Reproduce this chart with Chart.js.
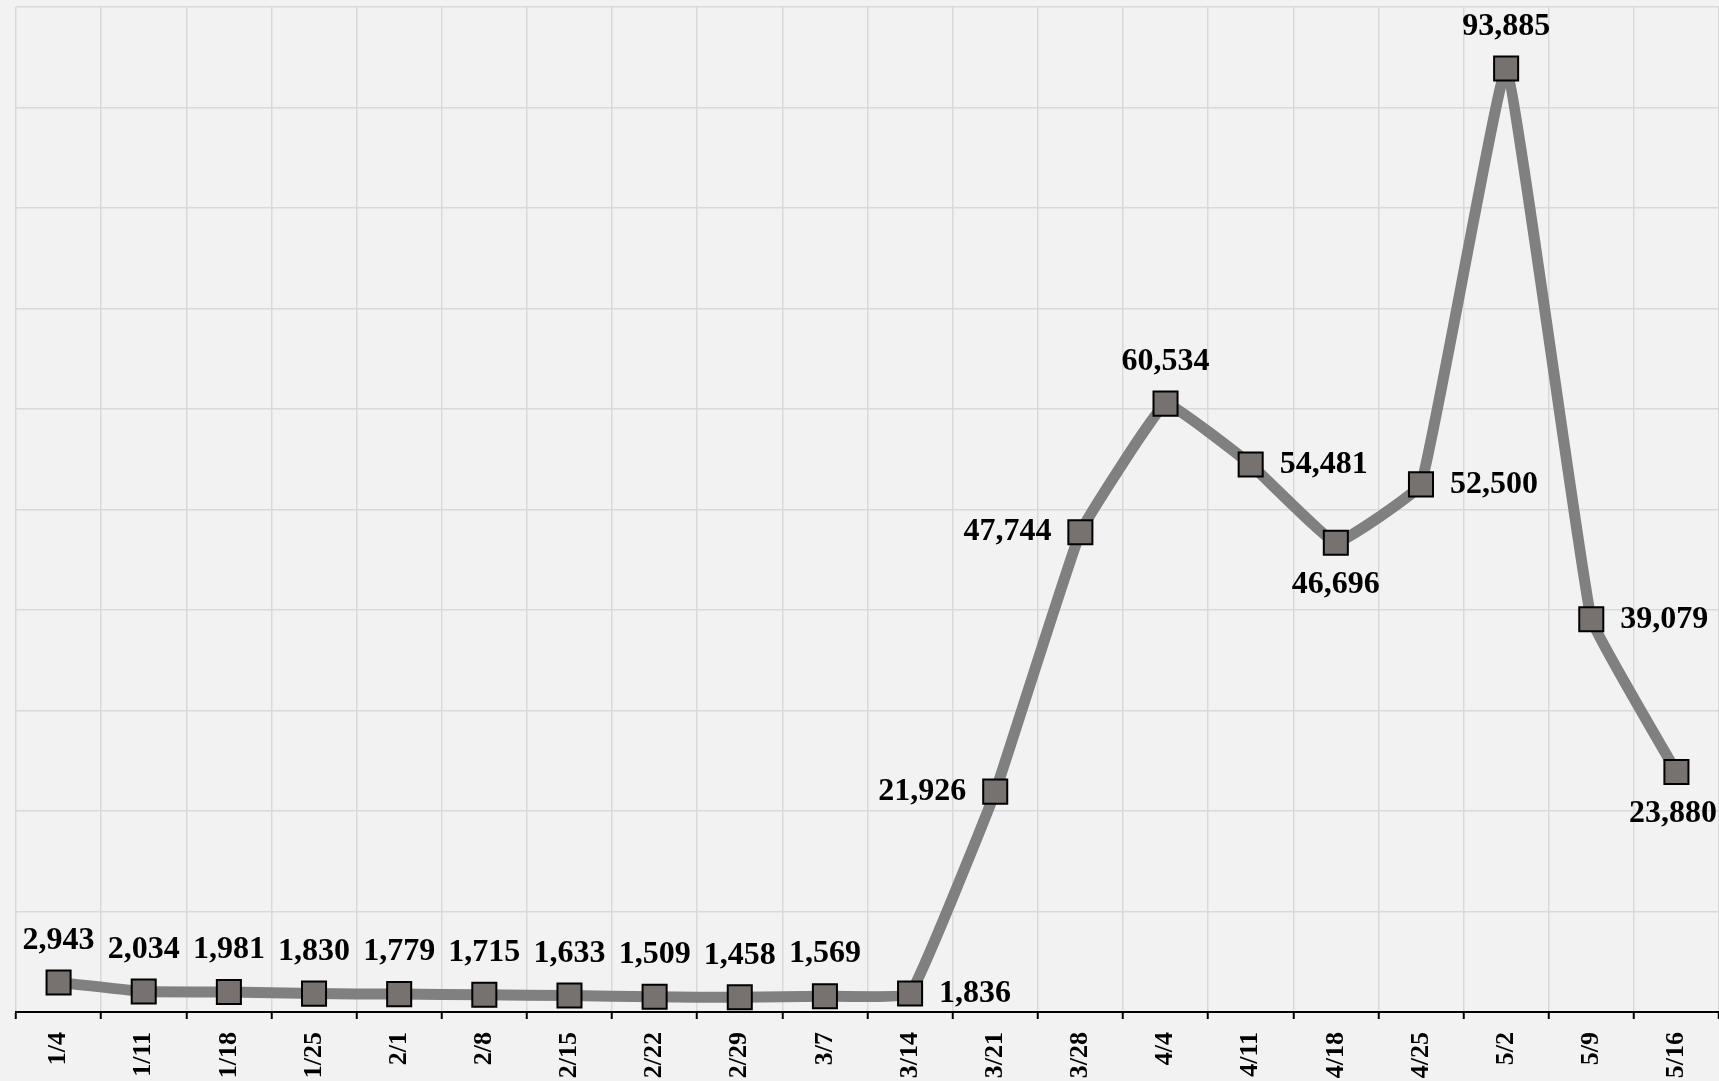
<!DOCTYPE html>
<html>
<head>
<meta charset="utf-8">
<script src="https://cdn.jsdelivr.net/npm/chart.js@4/dist/chart.umd.min.js"></script>
<style>
  html, body { margin: 0; padding: 0; background: #f2f2f2; }
  #wrap { width: 1719px; height: 1081px; position: relative; }
</style>
</head>
<body>
<div id="wrap"><canvas id="chart"></canvas></div>
<script>
// weekly counts
const weeks = ['1/4', '1/11', '1/18', '1/25', '2/1', '2/8', '2/15', '2/22', '2/29', '3/7',
               '3/14', '3/21', '3/28', '4/4', '4/11', '4/18', '4/25', '5/2', '5/9', '5/16'];
const counts = [2943, 2034, 1981, 1830, 1779, 1715, 1633, 1509, 1458, 1569,
                1836, 21926, 47744, 60534, 54481, 46696, 52500, 93885, 39079, 23880];
// where each value label sits relative to its marker
const labelSide = ['top', 'top', 'top', 'top', 'top', 'top', 'top', 'top', 'top', 'top',
                   'right', 'left', 'left', 'top', 'right', 'bottom', 'right', 'top', 'right', 'bottom'];

const serif = '"Liberation Serif", "Times New Roman", serif';

// value labels next to markers
const valueLabels = {
    id: 'valueLabels',
    afterDatasetsDraw(chart) {
        const ctx = chart.ctx;
        const pts = chart.getDatasetMeta(0).data;
        ctx.save();
        ctx.font = 'bold 32px ' + serif;
        ctx.fillStyle = '#000';
        pts.forEach((p, i) => {
            const txt = counts[i].toLocaleString('en-US');
            const w = ctx.measureText(txt).width;
            let x = p.x, y = p.y;
            ctx.textBaseline = 'middle';
            ctx.textAlign = 'center';
            switch (labelSide[i]) {
                case 'top': y -= 42; break;
                case 'bottom': y += 42; break;
                case 'left': x -= 29 + w / 2; break;
                case 'right': x += 29 + w / 2; break;
            }
            // keep it inside the canvas
            x = Math.min(x, chart.width - w / 2 - 2);
            ctx.fillText(txt, x, y);
        });
        ctx.restore();
    }
};

new Chart(document.getElementById('chart'), {
    type: 'line',
    data: {
        labels: weeks,
        datasets: [{
            data: counts,
            borderColor: '#808080',
            borderWidth: 11,
            tension: 0.08,
            pointStyle: 'rect',
            pointRadius: 17,
            pointHoverRadius: 17,
            pointBackgroundColor: '#77726f',
            pointBorderColor: '#000',
            pointBorderWidth: 2,
            fill: false,
            clip: false
        }]
    },
    options: {
        responsive: true, maintainAspectRatio: false,
        animation: false,
        layout: { autoPadding: false, padding: { left: 16, right: 0, top: 7, bottom: 0 } },
        plugins: { legend: { display: false }, tooltip: { enabled: false } },
        scales: {
            x: {
                offset: true,
                // fixed band for the rotated week labels
                afterFit(scale) {
                    scale.height = 69;
                    scale.paddingLeft = 0;
                    scale.paddingRight = 0;
                },
                grid: { color: '#d9d9d9', lineWidth: 1.5, offset: true, tickColor: '#000', tickLength: 7, tickWidth: 2 },
                border: { color: '#000', width: 2 },
                ticks: {
                    color: '#000', font: { family: serif, weight: 'bold', size: 26 },
                    minRotation: 90, maxRotation: 90, padding: 13, autoSkip: false
                }
            },
            y: {
                min: 0, max: 100000,
                ticks: { display: false, stepSize: 10000 },
                grid: { color: '#d9d9d9', lineWidth: 1.5, drawTicks: false },
                border: { display: false }
            }
        }
    },
    plugins: [valueLabels]
});
</script>
</body>
</html>
